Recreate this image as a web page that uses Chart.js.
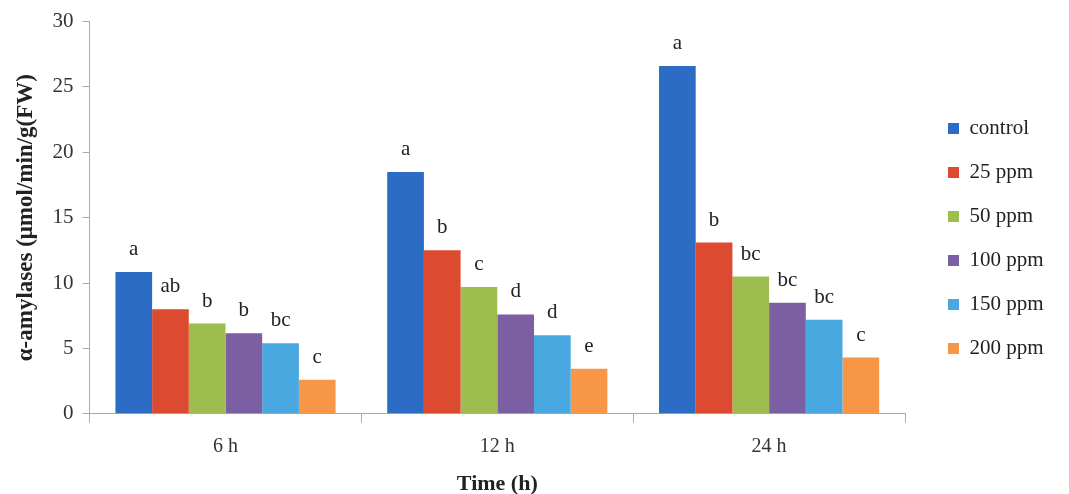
<!DOCTYPE html>
<html lang="en">
<head>
  <meta charset="UTF-8">
  <title>alpha-amylases</title>
  <script src="https://cdn.jsdelivr.net/npm/chart.js@4.4.1/dist/chart.umd.min.js"></script>
  <style>
    html, body { margin: 0; padding: 0; background: #fff; }
    #wrap { width: 1069px; height: 494px; }
  </style>
</head>
<body>
<div id="wrap"><canvas id="barChart" width="1069" height="494"></canvas></div>
<script>
  // data
  const categories = ['6 h', '12 h', '24 h'];
  const seriesNames = ['control', '25 ppm', '50 ppm', '100 ppm', '150 ppm', '200 ppm'];
  const control = [10.85, 18.5, 26.6];
  const ppm25 = [8.0, 12.5, 13.1];
  const ppm50 = [6.9, 9.7, 10.5];
  const ppm100 = [6.15, 7.6, 8.5];
  const ppm150 = [5.4, 6.0, 7.2];
  const ppm200 = [2.6, 3.45, 4.3];
  const letters = [
    ['a', 'a', 'a'],
    ['ab', 'b', 'b'],
    ['b', 'c', 'bc'],
    ['b', 'd', 'bc'],
    ['bc', 'd', 'bc'],
    ['c', 'e', 'c']
  ];
  const yTicks = [0, 5, 10, 15, 20, 25, 30];

  const colors = ['#2c6cc4', '#dc4a30', '#9dbd4f', '#7c5fa2', '#4aa8e0', '#f79646'];
  const values = [control, ppm25, ppm50, ppm100, ppm150, ppm200];
  const serif = "'Liberation Serif', 'Times New Roman', serif";

  // letters above bars
  const letterLabels = {
    id: 'letterLabels',
    afterDatasetsDraw(chart) {
      const { ctx } = chart;
      ctx.save();
      ctx.font = '21px ' + serif;
      ctx.fillStyle = '#222';
      ctx.textAlign = 'center';
      ctx.textBaseline = 'alphabetic';
      chart.data.datasets.forEach((ds, i) => {
        chart.getDatasetMeta(i).data.forEach((bar, j) => {
          ctx.fillText(letters[i][j], bar.x, bar.y - 17);
        });
      });
      ctx.restore();
    }
  };

  // give the legend more room on the left and nudge it into place
  const legendRoom = {
    id: 'legendRoom',
    beforeUpdate(chart) {
      const lg = chart.legend;
      if (!lg || lg._patched) return;
      lg._patched = true;
      const fit = lg.fit;
      lg.fit = function () {
        fit.call(this);
        this.width = 164;
      };
      const draw = lg.draw;
      lg.draw = function () {
        const c = this.ctx;
        c.save();
        c.translate(20, -17);
        draw.call(this);
        c.restore();
      };
    }
  };

  new Chart(document.getElementById('barChart').getContext('2d'), {
    type: 'bar',
    data: {
      labels: categories,
      datasets: seriesNames.map((name, i) => ({
        label: name,
        data: values[i],
        backgroundColor: colors[i],
        borderWidth: 0,
        barPercentage: 1,
        categoryPercentage: 0.81
      }))
    },
    options: {
      responsive: false,
      animation: false,
      layout: { padding: { top: 17, left: 12, bottom: 0, right: 0 } },
      scales: {
        x: {
          grid: { display: true, offset: true, drawOnChartArea: false, tickLength: 9, color: '#aaa' },
          border: { color: '#aaa' },
          ticks: { font: { family: serif, size: 20 }, color: '#333', padding: 12 },
          title: {
            display: true, text: 'Time (h)',
            font: { family: serif, size: 22, weight: 'bold', lineHeight: 0.92 }, color: '#222',
            padding: { top: 3, bottom: 0 }
          }
        },
        y: {
          min: 0, max: 30,
          afterBuildTicks(axis) { axis.ticks = yTicks.map(v => ({ value: v })); },
          grid: { display: true, drawOnChartArea: false, tickLength: 7, color: '#aaa' },
          border: { color: '#aaa' },
          ticks: { font: { family: serif, size: 21 }, color: '#333', padding: 9 },
          title: {
            display: true, text: 'α-amylases (μmol/min/g(FW)',
            font: { family: serif, size: 23, weight: 'bold' }, color: '#222',
            padding: { top: 0, bottom: 4 }
          }
        }
      },
      plugins: {
        legend: {
          position: 'right',
          align: 'center',
          labels: {
            boxWidth: 11, boxHeight: 11, padding: 23,
            font: { family: serif, size: 21 }, color: '#222'
          }
        },
        tooltip: { enabled: false }
      }
    },
    plugins: [letterLabels, legendRoom]
  });
</script>
</body>
</html>
